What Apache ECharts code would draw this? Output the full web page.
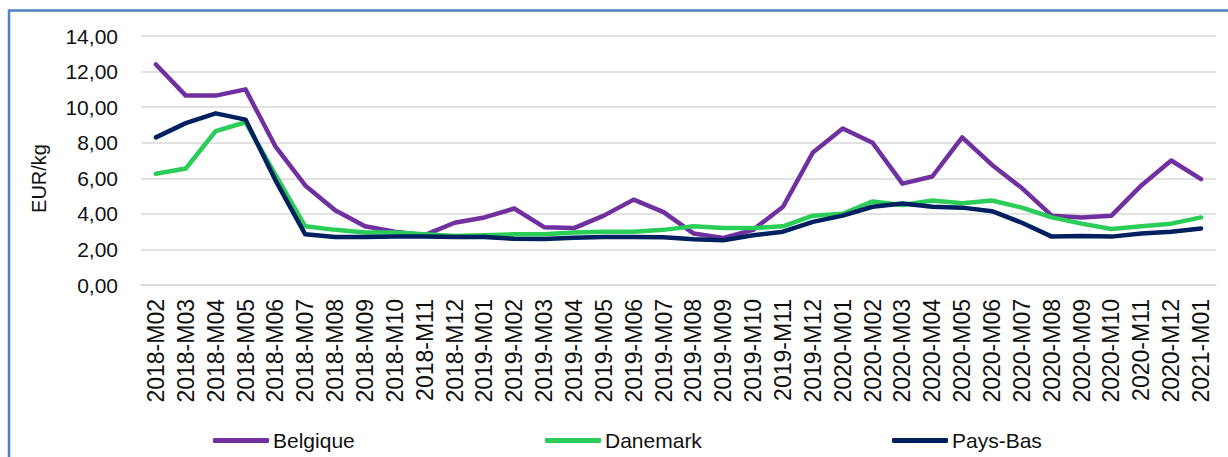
<!DOCTYPE html>
<html>
<head>
<meta charset="utf-8">
<title>EUR/kg</title>
<script src="https://cdn.jsdelivr.net/npm/echarts@6/dist/echarts.min.js"></script>
<style>
  html, body { margin: 0; padding: 0; background: #fff; }
  #chart { width: 1228px; height: 457px; }
</style>
</head>
<body>
<div id="chart"></div>
<script>
// mois
const categories = [
  '2018-M02', '2018-M03', '2018-M04', '2018-M05', '2018-M06', '2018-M07',
  '2018-M08', '2018-M09', '2018-M10', '2018-M11', '2018-M12', '2019-M01',
  '2019-M02', '2019-M03', '2019-M04', '2019-M05', '2019-M06', '2019-M07',
  '2019-M08', '2019-M09', '2019-M10', '2019-M11', '2019-M12', '2020-M01',
  '2020-M02', '2020-M03', '2020-M04', '2020-M05', '2020-M06', '2020-M07',
  '2020-M08', '2020-M09', '2020-M10', '2020-M11', '2020-M12', '2021-M01'
];

// prix EUR/kg par pays
const belgique = [
  12.4, 10.65, 10.65, 11.0, 7.8, 5.6, 4.2, 3.3, 3.0, 2.8, 3.5, 3.8,
  4.3, 3.25, 3.2, 3.9, 4.8, 4.1, 2.9, 2.65, 3.1, 4.4, 7.45, 8.8,
  8.0, 5.7, 6.1, 8.3, 6.75, 5.45, 3.9, 3.8, 3.9, 5.6, 7.0, 5.95
];
const danemark = [
  6.25, 6.55, 8.65, 9.15, 6.2, 3.3, 3.1, 2.95, 2.95, 2.85, 2.75, 2.8,
  2.85, 2.85, 2.95, 3.0, 3.0, 3.1, 3.3, 3.2, 3.2, 3.3, 3.9, 4.0,
  4.7, 4.5, 4.75, 4.6, 4.75, 4.35, 3.8, 3.45, 3.15, 3.3, 3.45, 3.8
];
const paysBas = [
  8.3, 9.1, 9.65, 9.3, 5.9, 2.85, 2.7, 2.7, 2.72, 2.72, 2.7, 2.7,
  2.6, 2.58, 2.65, 2.7, 2.7, 2.68, 2.57, 2.52, 2.8, 3.0, 3.55, 3.9,
  4.4, 4.58, 4.4, 4.35, 4.15, 3.5, 2.72, 2.75, 2.72, 2.9, 3.0, 3.18
];

const seriesNames = ['Belgique', 'Danemark', 'Pays-Bas'];
const seriesColors = ['#7030A0', '#2ACD57', '#002060'];
const seriesData = [belgique, danemark, paysBas];

const FONT = '"Liberation Sans", Arial, sans-serif';

const myChart = echarts.init(document.getElementById('chart'), null, { renderer: 'svg' });

// une légende par pays, chacune placée à la main
const legendLeft = [213, 545, 892];
const legends = seriesNames.map((name, i) => ({
  data: [name],
  left: legendLeft[i],
  top: 430,
  icon: 'roundRect',
  itemWidth: 56,
  itemHeight: 5,
  itemGap: 4,
  padding: 0,
  selectedMode: false,
  textStyle: { fontFamily: FONT, fontSize: 21, color: '#111', padding: [0, 0, 0, -1] }
}));

const option = {
  animation: false,
  backgroundColor: '#fff',
  // cadre bleu
  graphic: [{
    type: 'rect',
    shape: { x: 9, y: 10.5, width: 1260, height: 500 },
    style: { fill: 'none', stroke: '#4F81BD', lineWidth: 2.5 },
    silent: true
  }],
  legend: legends,
  grid: { left: 141, right: 12, top: 36, bottom: 172, containLabel: false },
  xAxis: {
    type: 'category',
    data: categories,
    boundaryGap: true,
    axisLine: { lineStyle: { color: '#D9D9D9', width: 1.5 } },
    axisTick: { show: false },
    axisLabel: {
      interval: 0,
      rotate: 90,
      margin: 14,
      fontFamily: FONT,
      fontSize: 23,
      color: '#111'
    }
  },
  yAxis: {
    type: 'value',
    min: 0,
    max: 14,
    interval: 2,
    name: 'EUR/kg',
    nameLocation: 'middle',
    nameGap: 92,
    nameTextStyle: { fontFamily: FONT, fontSize: 20, color: '#111', padding: [0, 36, 0, 0] },
    axisLine: { show: false },
    axisTick: { show: false },
    splitLine: { lineStyle: { color: '#D9D9D9', width: 1.5 } },
    axisLabel: {
      margin: 23,
      fontFamily: FONT,
      fontSize: 21,
      color: '#111',
      formatter: v => v.toFixed(2).replace('.', ',')
    }
  },
  series: seriesNames.map((name, i) => ({
    name: name,
    type: 'line',
    data: seriesData[i],
    symbol: 'none',
    color: seriesColors[i],
    lineStyle: { width: 4.5, color: seriesColors[i], cap: 'round', join: 'round' }
  }))
};

myChart.setOption(option);
</script>
</body>
</html>
